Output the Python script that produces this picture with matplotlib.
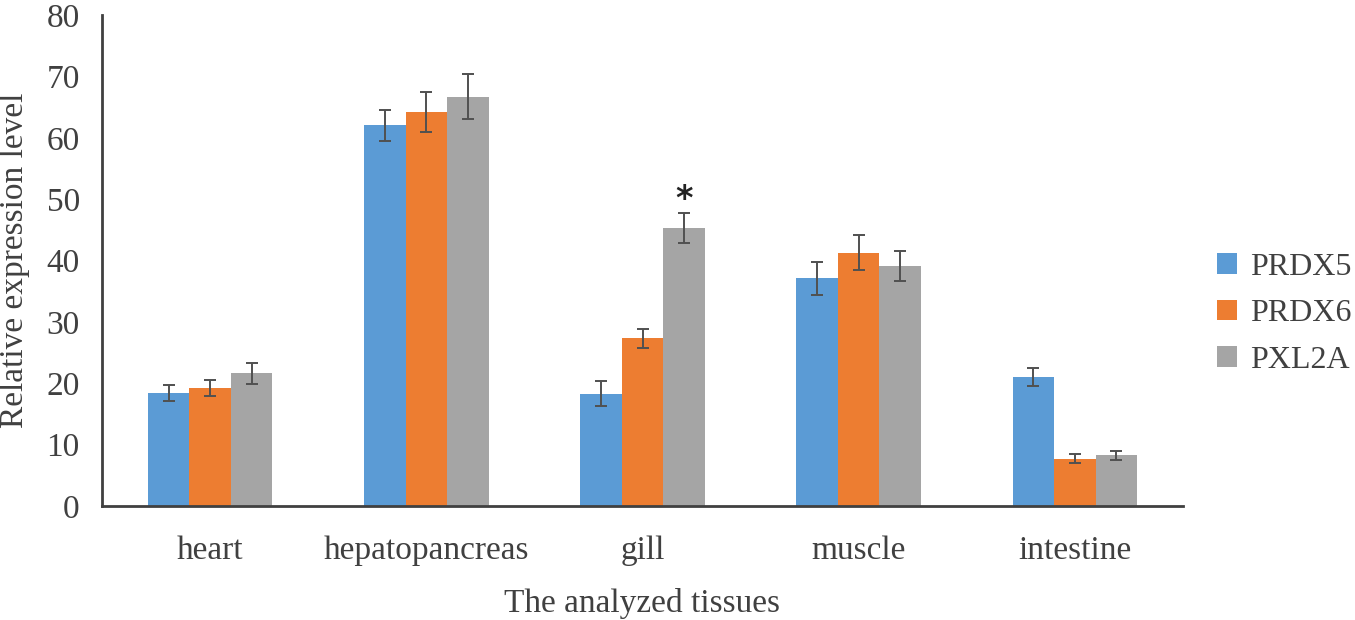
import numpy as np
import matplotlib
matplotlib.use("Agg")
import matplotlib.pyplot as plt
from matplotlib.patches import Patch

# Data
tissues = ["heart", "hepatopancreas", "gill", "muscle", "intestine"]
genes = ["PRDX5", "PRDX6", "PXL2A"]
prdx5 = [18.4, 62.0, 18.3, 37.1, 21.0]
prdx6 = [19.2, 64.2, 27.3, 41.3, 7.7]
pxl2a = [21.6, 66.7, 45.3, 39.1, 8.25]
prdx5_err = [1.3, 2.6, 2.0, 2.7, 1.5]
prdx6_err = [1.3, 3.2, 1.5, 2.8, 0.75]
pxl2a_err = [1.75, 3.7, 2.5, 2.5, 0.75]
star_tissue = "gill"
star_y = 50

colors = ["#5B9BD5", "#ED7D31", "#A5A5A5"]
text_col = "#404040"

plt.rcParams['font.family'] = ['Liberation Serif', 'DejaVu Serif']

fig = plt.figure(figsize=(13.55, 6.2), dpi=100)
ax = fig.add_axes([102 / 1355, 114 / 620, (1183 - 102) / 1355, (506 - 15) / 620])

x = np.arange(len(tissues))
width = 0.192
series = [prdx5, prdx6, pxl2a]
errs = [prdx5_err, prdx6_err, pxl2a_err]
for i, (vals, err) in enumerate(zip(series, errs)):
    pos = x + (i - 1) * width
    ax.bar(pos, vals, width, color=colors[i], label=genes[i], zorder=2)
    ax.errorbar(pos, vals, yerr=err, fmt="none", ecolor="#505050",
                elinewidth=1.4, capsize=4, capthick=1.4, zorder=3)

#Significance mark
si = tissues.index(star_tissue)
ax.text(si + width, star_y, "*", ha="center", va="center", fontsize=24,
        fontweight="bold", color="#222222", family="DejaVu Sans")

ax.set_xlim(-0.5, len(tissues) - 0.5)
ax.set_ylim(0, 80)
ax.set_yticks(range(0, 81, 10))
ax.set_xticks(x)
ax.set_xticklabels(tissues)
ax.tick_params(axis="both", length=0, labelsize=24, colors=text_col)
ax.tick_params(axis="y", pad=16)
ax.tick_params(axis="x", pad=21)

for s in ["top", "right"]:
    ax.spines[s].set_visible(False)
for s in ["left", "bottom"]:
    ax.spines[s].set_color("#404040")
    ax.spines[s].set_linewidth(2)

ax.set_ylabel("Relative expression level", fontsize=24, color=text_col, labelpad=12)
ax.set_xlabel("The analyzed tissues", fontsize=24, color=text_col, labelpad=16)

handles = [Patch(facecolor=c, label=g) for c, g in zip(colors, genes)]
fig.legend(handles=handles, loc="center left", bbox_to_anchor=(1217 / 1355, 0.494),
           frameon=False, fontsize=23, handlelength=0.62, handleheight=0.62,
           handletextpad=0.4, labelspacing=0.55, borderpad=0, borderaxespad=0,
           labelcolor=text_col)

fig.savefig("out.png", dpi=100)
